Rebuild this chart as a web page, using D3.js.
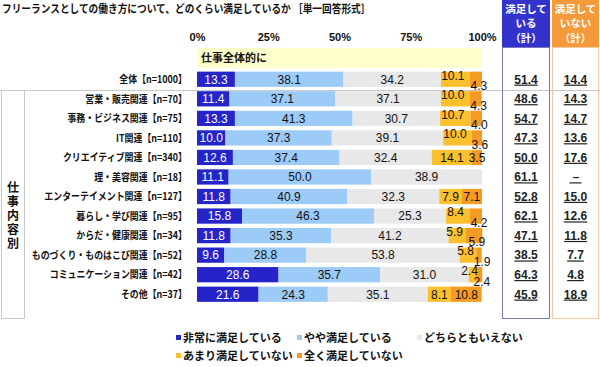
<!DOCTYPE html>
<html><head><meta charset="utf-8">
<script src="https://cdn.jsdelivr.net/npm/d3@7"></script>
<style>body{margin:0;background:#fff}svg{display:block}</style>
</head><body><svg id="c" width="600" height="367"></svg>
<script>
const categories = ["全体【n=1000】","営業・販売関連【n=70】","事務・ビジネス関連【n=75】","IT関連【n=110】","クリエイティブ関連【n=340】","理・美容関連【n=18】","エンターテイメント関連【n=127】","暮らし・学び関連【n=95】","からだ・健康関連【n=34】","ものづくり・ものはこび関連【n=52】","コミュニケーション関連【n=42】","その他【n=37】"];
const seriesNames = ["非常に満足している","やや満足している","どちらともいえない","あまり満足していない","全く満足していない"];
const verySatisfied   = [13.3,11.4,13.3,10.0,12.6,11.1,11.8,15.8,11.8,9.6,28.6,21.6];
const somewhat        = [38.1,37.1,41.3,37.3,37.4,50.0,40.9,46.3,35.3,28.8,35.7,24.3];
const neutral         = [34.2,37.1,30.7,39.1,32.4,38.9,32.3,25.3,41.2,53.8,31.0,35.1];
const notVery         = [10.1,10.0,10.7,10.0,14.1,0,7.9,8.4,5.9,5.8,2.4,8.1];
const notAtAll        = [4.3,4.3,4.0,3.6,3.5,0,7.1,4.2,5.9,1.9,2.4,10.8];
const satisfiedTotal  = ["51.4","48.6","54.7","47.3","50.0","61.1","52.8","62.1","47.1","38.5","64.3","45.9"];
const unsatisfiedTotal= ["14.4","14.3","14.7","13.6","17.6","－","15.0","12.6","11.8","7.7","4.8","18.9"];
const tickValues = [0,25,50,75,100];
const tickLabels = ["0%","25%","50%","75%","100%"];

const colors = ["#2424c8","#9dcbf7","#e8e8e8","#fbc02d","#f59a22"];
const JP = "'Noto Sans CJK JP','Noto Sans',sans-serif";
const NUM = "'Liberation Sans',Arial,sans-serif";

const svg = d3.select("#c");
const x = d3.scaleLinear().domain([0,100]).range([197,482]);
const y = d3.scaleBand().domain(categories).range([69.5,304]).paddingInner(0.22).paddingOuter(0.11);

// title
svg.append("g").attr("transform","translate(2,13) scale(0.88,1)").append("text")
  .attr("font-family",JP).attr("font-weight","bold")
  .attr("font-size",11).attr("fill","#111").text("フリーランスとしての働き方について、どのくらい満足しているか ［単一回答形式］");

// axis labels
const ax = svg.append("g").attr("transform","translate(0,37)")
  .call(d3.axisTop(x).tickValues(tickValues).tickFormat((d,i)=>tickLabels[i]).tickSize(0));
ax.select(".domain").remove();
ax.selectAll("text").attr("font-family",NUM).attr("font-weight","bold").attr("font-size",11).attr("fill","#111").attr("dy","0.35em").attr("y",0);

// yellow sub header
svg.append("rect").attr("x",x(0)).attr("y",48).attr("width",x(100)-x(0)).attr("height",20).attr("fill","#ffffcc");
svg.append("text").attr("x",x(0)+4).attr("y",62).attr("font-family",JP).attr("font-weight","bold").attr("font-size",11).attr("fill","#111").text("仕事全体的に");

// separator
svg.append("line").attr("x1",0).attr("x2",600).attr("y1",90.5).attr("y2",90.5).attr("stroke","#c8c8c8");

// left group box
svg.append("rect").attr("x",1.5).attr("y",90.5).attr("width",23).attr("height",228).attr("fill","#fff").attr("stroke","#c8c8c8");
svg.append("text").attr("x",13).attr("y",216).attr("text-anchor","middle")
  .style("writing-mode","vertical-rl").attr("letter-spacing",2)
  .attr("font-family",JP).attr("font-weight","bold").attr("font-size",12).attr("fill","#111").text("仕事内容別");

// category labels
svg.append("g").selectAll("g").data(categories).join("g")
  .attr("transform",d=>`translate(187,${y(d)+y.bandwidth()/2}) scale(0.85,1)`)
  .append("text").attr("dy","0.36em").attr("text-anchor","end")
  .attr("font-family",JP).attr("font-weight","bold").attr("font-size",10.5).attr("fill","#111").text(d=>d);

// stacked bars
const series = [verySatisfied,somewhat,neutral,notVery,notAtAll];
const rows = categories.map((c,i)=>{const o={cat:c}; seriesNames.forEach((s,j)=>o[s]=series[j][i]); return o;});
const stacked = d3.stack().keys(seriesNames)(rows);
const gBars = svg.append("g");
stacked.forEach((layer,j)=>{
  gBars.append("g").selectAll("rect").data(layer).join("rect")
    .attr("x",d=>x(d[0])).attr("width",d=>Math.max(0,x(d[1])-x(d[0])))
    .attr("y",d=>y(d.data.cat)).attr("height",y.bandwidth()).attr("fill",colors[j]);
});
// value labels
const isStagger = i => notAtAll[i]<7 && notVery[i]<12;
stacked.forEach((layer,j)=>{
  gBars.append("g").selectAll("text").data(layer.filter(d=>d[1]-d[0]>0)).join("text")
    .attr("x",d=>{
      const i=categories.indexOf(d.data.cat);
      const cx=(x(d[0])+x(d[1]))/2;
      if(isStagger(i) && j===3) return cx-2.5;
      if(isStagger(i) && j===4) return cx+3;
      return cx;
    })
    .attr("y",d=>{
      const i=categories.indexOf(d.data.cat);
      const cy=y(d.data.cat)+y.bandwidth()/2;
      if(isStagger(i) && j===3) return cy-4;
      if(isStagger(i) && j===4) return cy+6.5;
      return cy;
    })
    .attr("dy","0.36em").attr("text-anchor","middle")
    .attr("font-family",NUM).attr("font-size",12).attr("fill",j===0?"#fff":"#111")
    .text(d=>(d[1]-d[0]).toFixed(1));
});

// right columns
const cols = [{x:502,w:48,bg:"#3333cc",stroke:"#7b78b8",lines:["満足して","いる","（計）"],vals:satisfiedTotal},
              {x:552,w:47,bg:"#f59a3a",stroke:"#f2c9a0",lines:["満足して","いない","（計）"],vals:unsatisfiedTotal}];
cols.forEach(c=>{
  svg.append("rect").attr("x",c.x).attr("y",0).attr("width",c.w).attr("height",47).attr("fill",c.bg);
  svg.append("rect").attr("x",c.x+0.5).attr("y",47.5).attr("width",c.w-1).attr("height",271).attr("fill","none").attr("stroke",c.stroke);
  c.lines.forEach((t,k)=>svg.append("text").attr("x",c.x+c.w/2).attr("y",12.5+k*14.5).attr("text-anchor","middle")
    .attr("font-family",JP).attr("font-weight","bold").attr("font-size",10.5).attr("fill","#fff").text(t));
  svg.append("g").selectAll("text").data(c.vals).join("text")
    .attr("x",c.x+c.w/2).attr("y",(d,i)=>y(categories[i])+y.bandwidth()/2).attr("dy","0.36em")
    .attr("text-anchor","middle").attr("font-family",NUM).attr("font-weight","bold").attr("font-size",12)
    .attr("fill","#222").attr("text-decoration","underline").text(d=>d);
});

// legend
const legPos = [[176,338],[297,338],[417,338],[176,356],[297,356]];
seriesNames.forEach((s,j)=>{
  const [lx,ly]=legPos[j];
  svg.append("rect").attr("x",lx).attr("y",ly-3).attr("width",5).attr("height",5).attr("fill",colors[j]);
  svg.append("text").attr("x",lx+7).attr("y",ly).attr("dy","0.36em").attr("font-family",JP).attr("font-weight","bold")
    .attr("font-size",11).attr("fill","#111").text(s);
});
</script></body></html>
